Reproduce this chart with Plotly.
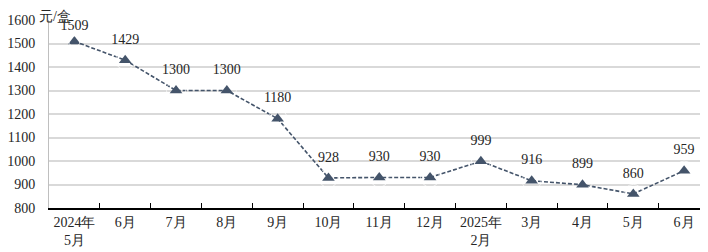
import plotly.graph_objects as go

categories = ["2024年<br>5月", "6月", "7月", "8月", "9月", "10月", "11月", "12月",
              "2025年<br>2月", "3月", "4月", "5月", "6月"]
cat_ids = ["2024-05", "2024-06", "2024-07", "2024-08", "2024-09", "2024-10", "2024-11",
           "2024-12", "2025-02", "2025-03", "2025-04", "2025-05", "2025-06"]
prices = [1509, 1429, 1300, 1300, 1180, 928, 930, 930, 999, 916, 899, 860, 959]
y_ticks = [800, 900, 1000, 1100, 1200, 1300, 1400, 1500, 1600]
unit_label = "元/盒"

FONT = "Liberation Serif"
LINE_COLOR = "#44546A"
TXT = "#262626"
FS = 14

# label offsets: first label sits closer to its point (chart top)
label_pad = [11] + [19] * (len(prices) - 1)

fig = go.Figure()
fig.add_trace(go.Scatter(
    x=cat_ids, y=prices,
    mode="lines+markers",
    line=dict(color=LINE_COLOR, width=1.6, dash="4px,2px"),
    marker=dict(symbol="triangle-up", size=11, color=LINE_COLOR),
    cliponaxis=False,
    showlegend=False, hoverinfo="skip",
))
# data labels (invisible marker sets the label offset)
fig.add_trace(go.Scatter(
    x=cat_ids, y=prices,
    mode="markers+text",
    marker=dict(size=label_pad, color="rgba(0,0,0,0)"),
    text=[str(v) for v in prices],
    textposition="top center",
    textfont=dict(family=FONT, size=FS, color=TXT),
    cliponaxis=False,
    showlegend=False,
))

fig.update_layout(
    width=700, height=244,
    margin=dict(l=41, r=0, t=12, b=44),
    paper_bgcolor="white", plot_bgcolor="white",
    font=dict(family=FONT, size=FS, color=TXT),
    xaxis=dict(
        type="category", automargin=False, tickangle=0,
        tickmode="array", tickvals=cat_ids, ticktext=categories,
        range=[-0.5, 12.47],
        showline=True, linecolor="#000000", linewidth=1.5,
        ticks="inside", tickson="boundaries", ticklen=5, tickcolor="#000000", tickwidth=1,
        showgrid=False, zeroline=False,
        tickfont=dict(family=FONT, size=FS, color=TXT),
    ),
    yaxis=dict(
        range=[800, 1600], automargin=False,
        tickmode="array", tickvals=y_ticks,
        showline=True, linecolor="#BFBFBF", linewidth=1,
        showgrid=True, gridcolor="#D9D9D9", gridwidth=1.5,
        zeroline=False, ticks="", ticklabelstandoff=10,
        tickfont=dict(family=FONT, size=FS, color=TXT),
    ),
    annotations=[dict(
        text=unit_label, xref="paper", yref="paper", x=0, y=1,
        xanchor="left", yanchor="middle", xshift=-12, yshift=4,
        showarrow=False, font=dict(family=FONT, size=FS, color=TXT),
    )],
)

fig.write_html("out.html")
